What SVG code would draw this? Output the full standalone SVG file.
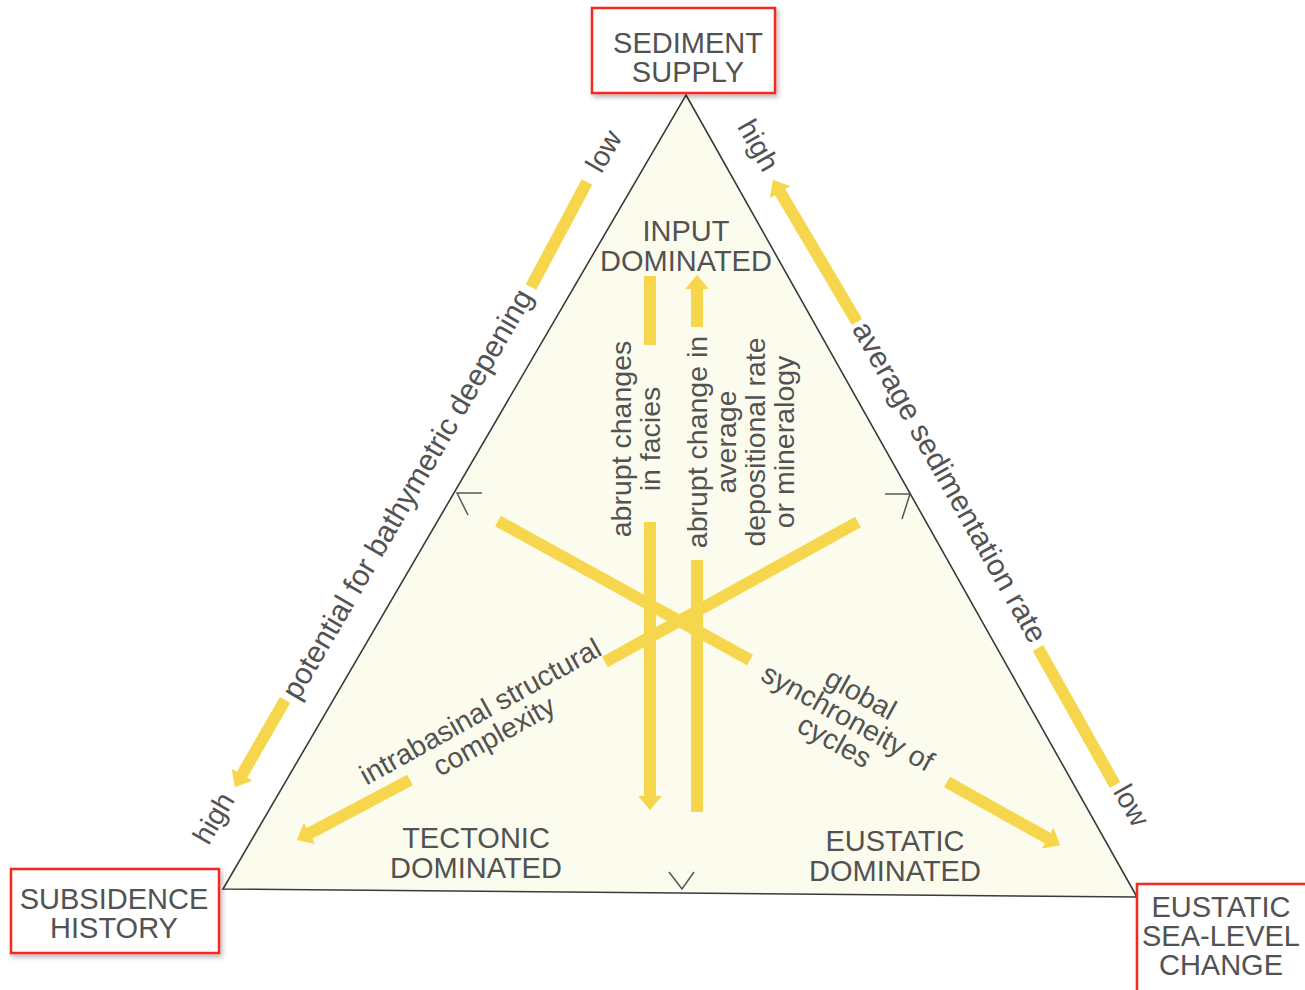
<svg xmlns="http://www.w3.org/2000/svg" width="1305" height="990" viewBox="0 0 1305 990">
  <style>
    .box { fill: #ffffff; stroke: #f42a1b; stroke-width: 2.5; filter: url(#shadow); }
    .cap { font-family: "Liberation Sans", Arial, sans-serif; font-size: 29px; fill: #525252; text-anchor: middle; }
    .lbl { font-family: "Liberation Sans", Arial, sans-serif; font-size: 28.5px; fill: #525252; text-anchor: middle; }
    .side { font-size: 30px; }
    .bar { stroke: #f6d64c; stroke-width: 12; fill: none; stroke-linecap: butt; }
    .arr { marker-end: url(#head); }
    .edge { fill: #fcfcee; stroke: #3a3a3a; stroke-width: 1.6; stroke-linejoin: miter; }
    .tick { fill: none; stroke: #555555; stroke-width: 1.5; }
  </style>
  <defs>
    <filter id="shadow" x="-10%" y="-10%" width="125%" height="130%">
      <feDropShadow dx="2" dy="3" stdDeviation="2.5" flood-color="#000000" flood-opacity="0.28"/>
    </filter>
    <marker id="head" viewBox="0 0 6 10" refX="0.5" refY="5" markerWidth="1.2" markerHeight="2" orient="auto" markerUnits="strokeWidth">
      <path d="M0,0 L6,5 L0,10 z" fill="#f6d64c"/>
    </marker>
  </defs>

  <rect width="1305" height="990" fill="#ffffff"/>

  <!-- ternary triangle -->
  <g id="triangle">
    <polygon class="edge" points="686,95 1137,897 223,889"/>
    <path class="tick" d="M482,493 L457,493 L468,515"/>
    <path class="tick" d="M885,494 L910,494 L902,519"/>
    <path class="tick" d="M669,872 L682,889 L694,872"/>
  </g>

  <!-- connectors: yellow trend arrows -->
  <g id="connectors">
    <!-- outer, left side -->
    <line class="bar" x1="531" y1="287" x2="587" y2="182"/>
    <line class="bar arr" x1="285" y1="700" x2="241.5" y2="775.7"/>
    <!-- outer, right side -->
    <line class="bar arr" x1="857" y1="322" x2="779.6" y2="191.2"/>
    <line class="bar" x1="1038" y1="648" x2="1115" y2="785"/>
    <!-- inner vertical pair -->
    <line class="bar" x1="650" y1="276" x2="650" y2="345"/>
    <line class="bar arr" x1="650" y1="522" x2="650" y2="797"/>
    <line class="bar" x1="697" y1="812" x2="697" y2="560"/>
    <line class="bar arr" x1="697" y1="327" x2="697" y2="288"/>
    <!-- inner diagonals -->
    <line class="bar" x1="498" y1="521" x2="750" y2="660"/>
    <line class="bar arr" x1="947" y1="782" x2="1048.7" y2="838.7"/>
    <line class="bar" x1="858" y1="522" x2="605" y2="662"/>
    <line class="bar arr" x1="410" y1="780" x2="308.5" y2="833.9"/>
  </g>

  <!-- corner boxes -->
  <g id="sediment-supply">
    <rect class="box" x="592" y="8" width="183" height="85"/>
    <text class="cap" x="688" y="53">SEDIMENT</text>
    <text class="cap" x="688" y="82">SUPPLY</text>
  </g>
  <g id="subsidence-history">
    <rect class="box" x="11" y="869" width="208" height="84"/>
    <text class="cap" x="114" y="909">SUBSIDENCE</text>
    <text class="cap" x="114" y="938">HISTORY</text>
  </g>
  <g id="eustatic-sea-level-change">
    <rect class="box" x="1137" y="884" width="180" height="120"/>
    <text class="cap" x="1221" y="917">EUSTATIC</text>
    <text class="cap" x="1221" y="946">SEA-LEVEL</text>
    <text class="cap" x="1221" y="975">CHANGE</text>
  </g>

  <!-- end-member fields -->
  <g id="input-dominated">
    <text class="cap" x="686" y="241">INPUT</text>
    <text class="cap" x="686" y="271">DOMINATED</text>
  </g>
  <g id="tectonic-dominated">
    <text class="cap" x="476" y="848">TECTONIC</text>
    <text class="cap" x="476" y="878">DOMINATED</text>
  </g>
  <g id="eustatic-dominated">
    <text class="cap" x="895" y="851">EUSTATIC</text>
    <text class="cap" x="895" y="881">DOMINATED</text>
  </g>

  <!-- side axis labels -->
  <g id="left-axis">
    <text class="lbl side" transform="translate(416,499) rotate(-59.8)">potential for bathymetric deepening</text>
    <text class="lbl" transform="translate(612,156) rotate(-59.8)">low</text>
    <text class="lbl" transform="translate(222,823) rotate(-59.8)">high</text>
  </g>
  <g id="right-axis">
    <text class="lbl side" transform="translate(941,487) rotate(60.5)">average sedimentation rate</text>
    <text class="lbl" transform="translate(750,150) rotate(60.5)">high</text>
    <text class="lbl" transform="translate(1123,810) rotate(60.5)">low</text>
  </g>

  <!-- interior criteria labels -->
  <g id="facies-label" transform="translate(631,439) rotate(-90)">
    <text class="lbl" x="0" y="0">abrupt changes</text>
    <text class="lbl" x="0" y="29">in facies</text>
  </g>
  <g id="depositional-label" transform="translate(707,442) rotate(-90)">
    <text class="lbl" x="0" y="0">abrupt change in</text>
    <text class="lbl" x="0" y="29">average</text>
    <text class="lbl" x="0" y="58">depositional rate</text>
    <text class="lbl" x="0" y="87">or mineralogy</text>
  </g>
  <g id="structural-label" transform="translate(485,720) rotate(-29)">
    <text class="lbl" x="0" y="0">intrabasinal structural</text>
    <text class="lbl" x="0" y="28">complexity</text>
  </g>
  <g id="synchroneity-label" transform="translate(843,726) rotate(29)">
    <text class="lbl" x="0" y="-27">global</text>
    <text class="lbl" x="0" y="0">synchroneity of</text>
    <text class="lbl" x="0" y="27">cycles</text>
  </g>
</svg>
